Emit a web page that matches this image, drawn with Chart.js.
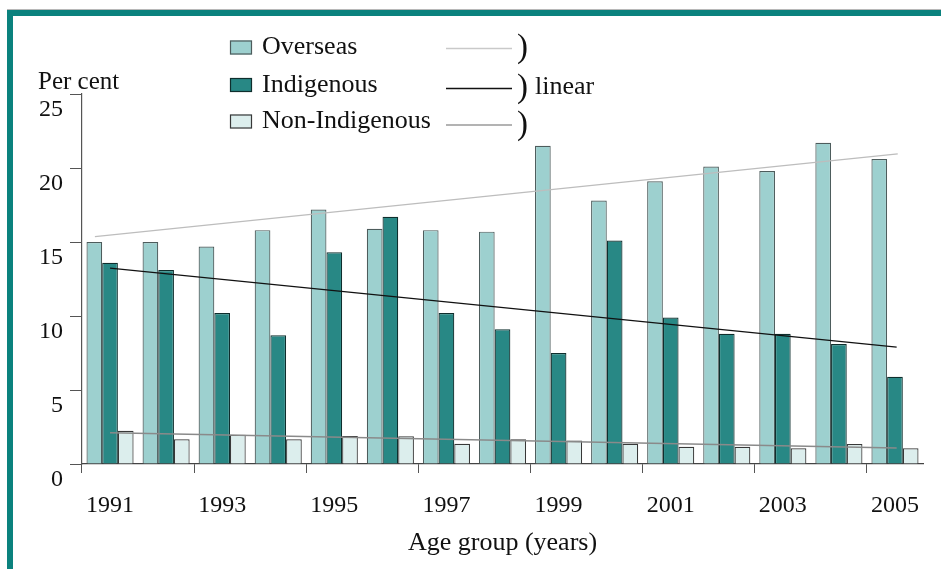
<!DOCTYPE html>
<html>
<head>
<meta charset="utf-8">
<title>Per cent by year</title>
<style>
    html, body { margin: 0; padding: 0; background: #fff; }
    #wrap { position: relative; width: 941px; height: 569px; overflow: hidden; }
    #topline { position: absolute; left: 7px; top: 9px; right: 0; height: 1px; background: #b8b8b8; }
    #frame { position: absolute; left: 7px; top: 10px; right: 0; bottom: 0;
             border-top: 6px solid #0b827e; border-left: 6px solid #0b827e; }
    #chart { position: absolute; left: 0; top: 0; }
</style>
<script src="https://cdn.jsdelivr.net/npm/chart.js@4/dist/chart.umd.min.js"></script>
</head>
<body>
<div id="wrap">
    <div id="topline"></div>
    <div id="frame"></div>
    <canvas id="chart" width="941" height="569"></canvas>
</div>
<script>
const years = ['1991', '1992', '1993', '1994', '1995', '1996', '1997', '1998',
    '1999', '2000', '2001', '2002', '2003', '2004', '2005'];

const overseas = [15.0, 15.0, 14.7, 15.8, 17.2, 15.9, 15.8, 15.7, 21.5, 17.8, 19.1, 20.1, 19.8, 21.7, 20.6];
const indigenous = [13.6, 13.1, 10.2, 8.7, 14.3, 16.7, 10.2, 9.1, 7.5, 15.1, 9.9, 8.8, 8.8, 8.1, 5.9];
const nonIndigenous = [2.25, 1.67, 1.98, 1.67, 1.89, 1.87, 1.37, 1.67, 1.58, 1.37, 1.17, 1.17, 1.06, 1.35, 1.06];

// linear trend end points: [year index, per cent]
const overseasTrend = [[-0.27, 15.36], [14.05, 20.95]];
const indigenousTrend = [[0, 13.24], [14.03, 7.9]];
const nonIndigenousTrend = [[0, 2.11], [14.03, 1.08]];

const yTicks = [0, 5, 10, 15, 20, 25];

const SERIF = '"Liberation Serif", "Times New Roman", serif';

const COLORS = {
    overseas: { fill: '#9dd0cf', border: '#4d5c5c', trend: '#bdbdbd', key: '#c9c9c9' },
    indigenous: { fill: '#288885', border: '#0f2e2d', trend: '#111111', key: '#111111' },
    nonIndigenous: { fill: '#dceeed', border: '#383838', trend: '#8a8a8a', key: '#9a9a9a' },
};

const TRENDS = [
    { points: overseasTrend, key: 'overseas', width: 1.2 },
    { points: indigenousTrend, key: 'indigenous', width: 1.2 },
    { points: nonIndigenousTrend, key: 'nonIndigenous', width: 1.6 },
];

const LEGEND_ROWS = [
    { label: 'Overseas', key: 'overseas', y: 47.5, lineY: 48.5, suffix: '' },
    { label: 'Indigenous', key: 'indigenous', y: 85, lineY: 88.5, suffix: 'linear' },
    { label: 'Non-Indigenous', key: 'nonIndigenous', y: 121.5, lineY: 125, suffix: '' },
];

function barSet(label, data, key) {
    return {
        label,
        data,
        backgroundColor: COLORS[key].fill,
        borderColor: COLORS[key].border,
        borderWidth: 1.2,
        categoryPercentage: 0.84,
        barPercentage: 1.0,
    };
}

// trend lines go through the chart's own x and y scales
const trendPlugin = {
    id: 'trends',
    afterDatasetsDraw(chart) {
        const { ctx, scales: { x, y } } = chart;
        ctx.save();
        TRENDS.forEach((trend) => {
            ctx.strokeStyle = COLORS[trend.key].trend;
            ctx.lineWidth = trend.width;
            ctx.beginPath();
            trend.points.forEach(([i, v], n) => {
                const px = x.getPixelForValue(i);
                const py = y.getPixelForValue(v);
                if (n === 0) {
                    ctx.moveTo(px, py);
                } else {
                    ctx.lineTo(px, py);
                }
            });
            ctx.stroke();
        });
        ctx.restore();
    },
};

const extrasPlugin = {
    id: 'extras',
    afterDraw(chart) {
        const ctx = chart.ctx;
        ctx.save();

        ctx.fillStyle = '#111';
        ctx.textBaseline = 'middle';
        ctx.textAlign = 'left';
        ctx.font = '25px ' + SERIF;
        ctx.fillText('Per cent', 38, 82);

        LEGEND_ROWS.forEach((row) => {
            const c = COLORS[row.key];
            ctx.fillStyle = c.fill;
            ctx.fillRect(230, row.y - 7, 22, 14);
            ctx.strokeStyle = c.border;
            ctx.lineWidth = 1.2;
            ctx.strokeRect(230.5, row.y - 6.5, 21, 13);

            ctx.fillStyle = '#111';
            ctx.font = '26px ' + SERIF;
            ctx.fillText(row.label, 262, row.y);

            ctx.strokeStyle = c.key;
            ctx.lineWidth = 1.3;
            ctx.beginPath();
            ctx.moveTo(446, row.lineY);
            ctx.lineTo(512, row.lineY);
            ctx.stroke();

            ctx.font = '33px ' + SERIF;
            ctx.fillText(')', 517, row.lineY);
            if (row.suffix) {
                ctx.font = '26px ' + SERIF;
                ctx.fillText(row.suffix, 535, row.lineY - 1);
            }
        });

        ctx.restore();
    },
};

new Chart(document.getElementById('chart'), {
    type: 'bar',
    data: {
        labels: years,
        datasets: [
            barSet('Overseas', overseas, 'overseas'),
            barSet('Indigenous', indigenous, 'indigenous'),
            barSet('Non-Indigenous', nonIndigenous, 'nonIndigenous'),
        ],
    },
    options: {
        responsive: false,
        maintainAspectRatio: false,
        animation: false,
        devicePixelRatio: 1,
        layout: {
            padding: { left: 0, top: 94, right: 18, bottom: 0 },
        },
        plugins: {
            legend: { display: false },
            tooltip: { enabled: false },
        },
        scales: {
            x: {
                type: 'category',
                offset: true,
                afterFit(scale) {
                    scale.height = 105;
                },
                grid: {
                    drawOnChartArea: false,
                    tickLength: 9,
                    tickColor: (context) => (context.index % 2 === 0 ? '#555' : 'rgba(0,0,0,0)'),
                },
                border: { color: '#444', width: 1.2 },
                ticks: {
                    autoSkip: false,
                    maxRotation: 0,
                    padding: 18,
                    color: '#111',
                    font: { family: SERIF, size: 24 },
                    callback: (value, index) => (index % 2 === 0 ? years[index] : ''),
                },
                title: {
                    display: true,
                    text: 'Age group (years)',
                    color: '#111',
                    font: { family: SERIF, size: 26 },
                    padding: { top: 0, bottom: 10 },
                },
            },
            y: {
                min: yTicks[0],
                max: yTicks[yTicks.length - 1],
                afterFit(scale) {
                    scale.width = 82;
                },
                afterBuildTicks(scale) {
                    scale.ticks = yTicks.map((value) => ({ value }));
                },
                grid: {
                    drawOnChartArea: false,
                    tickLength: 12,
                    tickColor: '#555',
                },
                border: { color: '#555', width: 1.2 },
                ticks: {
                    padding: 7,
                    labelOffset: 16,
                    color: '#111',
                    font: { family: SERIF, size: 24 },
                },
            },
        },
    },
    plugins: [trendPlugin, extrasPlugin],
});
</script>
</body>
</html>
